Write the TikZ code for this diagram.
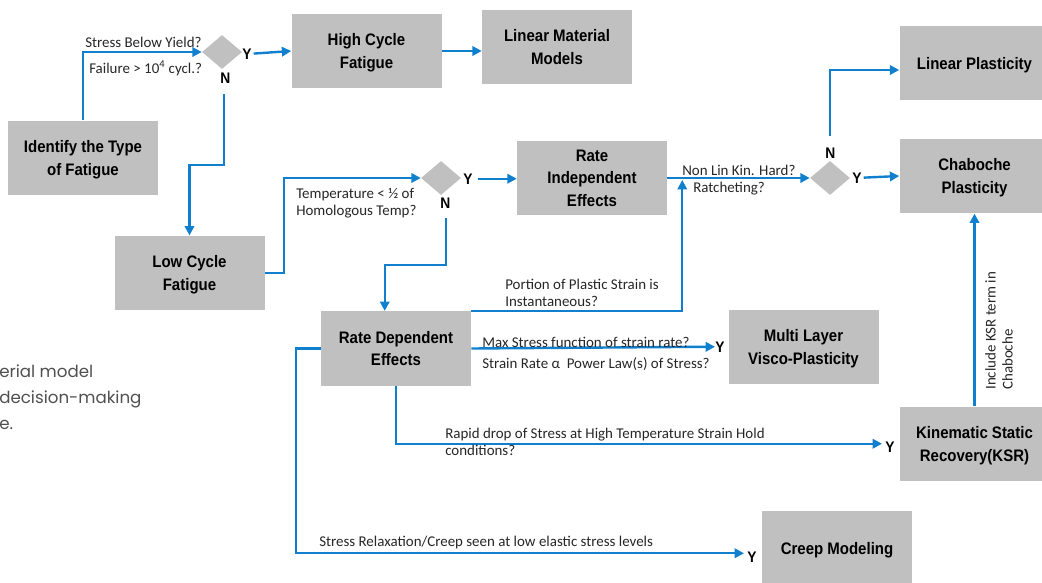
\documentclass[tikz,border=0pt]{standalone}
\usepackage{fontspec}
\setmainfont{Carlito}
\newfontfamily\bxf[FakeStretch=0.9]{Liberation Sans}
\newfontfamily\ppf{Poppins}
\usetikzlibrary{arrows.meta,shapes.geometric,calc}
\definecolor{boxgray}{RGB}{192,192,192}
\definecolor{lnblue}{RGB}{16,128,206}
\definecolor{txtgray}{RGB}{80,80,80}
\begin{document}
\begin{tikzpicture}[x=0.75pt,y=-0.75pt,
 box/.style={fill=boxgray, minimum width=112.5pt, minimum height=56pt, inner sep=0pt, align=center, text depth=0pt, font=\bxf\bfseries\fontsize{12.5}{17}\selectfont},
 dia/.style={diamond, fill=boxgray, minimum width=30pt, minimum height=25.5pt, inner sep=0pt},
 yn/.style={font=\bxf\bfseries\fontsize{11.5}{12}\selectfont, inner sep=0pt, anchor=base west},
 lbl/.style={font=\fontsize{11.2}{12.75}\selectfont, inner sep=0pt, anchor=base west, align=left, text=black!85},
 conn/.style={draw=lnblue, line width=1.8pt},
 arr/.style={conn, -{Triangle[length=7pt,width=7pt]}},
]
\useasboundingbox (0,0) rectangle (1042,582);

% boxes
\node[box] (idf) at (83,158) {Identify the Type\\of Fatigue};
\node[box] (hcf) at (366.5,51) {High Cycle\\Fatigue};
\node[box] (lmm) at (557,47) {Linear Material\\Models};
\node[box] (lcf) at (189.5,273) {Low Cycle\\Fatigue};
\node[box] (rie) at (592,178) {Rate\\Independent\\Effects};
\node[box] (rde) at (396,348.5) {Rate Dependent\\Effects};
\node[box] (mlv) at (803.5,347) {Multi Layer\\Visco-Plasticity};
\node[box] (lpl) at (974.5,63) {Linear Plasticity};
\node[box] (chb) at (974.5,176) {Chaboche\\Plasticity};
\node[box] (ksr) at (974.5,444) {Kinematic Static\\Recovery(KSR)};
\node[box] (crm) at (837,548) {Creep Modeling};

% decisions
\node[dia] (d1) at (222,52) {};
\node[dia] (d2) at (441,178) {};
\node[dia] (d3) at (830,178) {};

% Y / N
\node[yn] (d1y) at (242,59) {Y};
\node[yn] (d1n) at (220,83) {N};
\node[yn] (d2y) at (463,184) {Y};
\node[yn] (d2n) at (440,208) {N};
\node[yn] (d3y) at (852,183) {Y};
\node[yn] (d3n) at (825,158) {N};
\node[yn] (mly) at (715,352) {Y};
\node[yn] (ksy) at (885,452) {Y};
\node[yn] (cmy) at (747,562) {Y};

% connectors
\draw[arr] (idf.north) |- (d1.west);
\draw[arr, shorten <=1.5pt] (d1y.east) -- (hcf.west);
\draw[arr] (hcf.east) -- (hcf.east -| lmm.west);
\coordinate (n1) at (224,94);
\draw[arr] (n1) -- (224,165) -| (lcf.north);
\draw[arr] (lcf.east) -- (284,273) |- (d2.west);
\draw[arr, shorten <=4pt] (d2y.east) -- (d2y.east -| rie.west);
\coordinate (n2) at (446,218);
\draw[arr] (n2) -- (446,265) -| ($(rde.north west)+(64,0)$);
\coordinate (j1) at ($(rie.east)+(15,2)$);
\draw[arr] (rde.north east) -| (j1);
\draw[arr] (rie.east) -- (d3.west);
\coordinate (n3) at (830,136);
\draw[arr] (n3) |- ($(lpl.west)+(0,7)$);
\draw[arr, shorten <=1.5pt] (d3y.east) -- (chb.west);
\draw[arr] (rde.east) -- (mly.west);
\draw[arr] (rde.south) |- ($(ksy.west)+(-3,-3)$);
\draw[arr] (rde.west) -- (296,348.5) |- ($(cmy.west)+(-3,-3.5)$);
\draw[arr] (ksr.north) -- (chb.south);

% labels (multi-line nodes: position is the last line's baseline)
\node[lbl] (l1) at (85,47) {Stress Below Yield?};
\node[lbl] (l2) at (89,73) {Failure > 10\textsuperscript{4} cycl.?};
\node[lbl] (l3) at (296,215) {Temperature < ½ of\\Homologous Temp?};
\node[lbl] (l4) at (505,306) {Portion of Plastic Strain is\\Instantaneous?};
\node[lbl] (l5) at (682,175) {Non Lin Kin. Hard?};
\node[lbl] (l6) at (693,192) {Ratcheting?};
\node[lbl] (l7) at (482,347) {Max Stress function of strain rate?};
\node[lbl] (l8) at (482,368) {Strain Rate α~ Power Law(s) of Stress?};
\node[lbl] (l9) at (445,455) {Rapid drop of Stress at High Temperature Strain Hold\\conditions?};
\node[lbl] (l10) at (319,546) {Stress Relaxation/Creep seen at low elastic stress levels};
\node[lbl, rotate=90, anchor=north west] (l11) at (985,390) {Include KSR term in\\Chaboche};

% side text
\node[font=\ppf\fontsize{12.5}{19.5}\selectfont, text=txtgray, anchor=base west, inner sep=0pt, align=left] (side) at (-1,429) {erial model\\decision-making\\e.};
\end{tikzpicture}
\end{document}
